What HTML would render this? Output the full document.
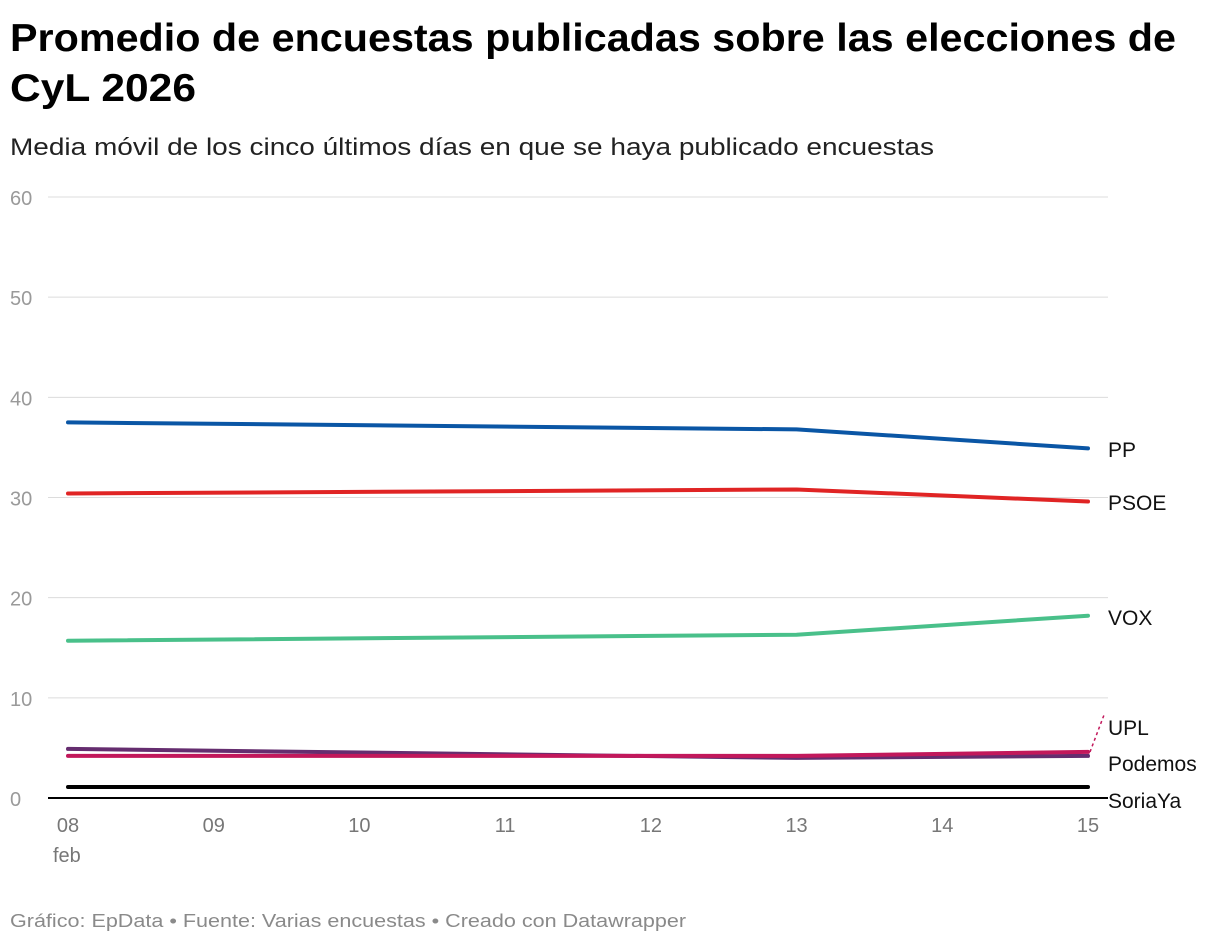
<!DOCTYPE html>
<html><head><meta charset="utf-8">
<style>
html,body{margin:0;padding:0;background:#fff;}
svg{display:block;font-family:"Liberation Sans",Arial,sans-serif;}
</style></head>
<body>
<svg id="chart" width="1220" height="944" viewBox="0 0 1220 944">
  <text x="10" y="51" font-size="39" font-weight="bold" fill="#000" textLength="1166" lengthAdjust="spacingAndGlyphs">Promedio de encuestas publicadas sobre las elecciones de</text>
  <text x="10" y="101" font-size="39" font-weight="bold" fill="#000" textLength="186" lengthAdjust="spacingAndGlyphs">CyL 2026</text>
  <text x="10" y="155" font-size="24" fill="#222" textLength="924" lengthAdjust="spacingAndGlyphs">Media móvil de los cinco últimos días en que se haya publicado encuestas</text>
  <g id="grid"></g>
  <g id="lines"></g>
  <g id="labels"></g>
  <text x="10" y="927" font-size="18" fill="#8a8a8a" textLength="676" lengthAdjust="spacingAndGlyphs">Gráfico: EpData • Fuente: Varias encuestas • Creado con Datawrapper</text>
</svg>
<script>
const dayLabels = ["08","09","10","11","12","13","14","15"];
const dayIndex = [0, 5, 7];
const yTicks = [0,10,20,30,40,50,60];
const seriesNames = ["PP","PSOE","VOX","UPL","Podemos","SoriaYa"];
const ppValues = [37.5, 36.8, 34.9];
const psoeValues = [30.4, 30.8, 29.6];
const voxValues = [15.7, 16.3, 18.2];
const uplValues = [4.2, 4.2, 4.6];
const podemosValues = [4.9, 4.0, 4.2];
const soriaValues = [1.1, 1.1, 1.1];

const NS = "http://www.w3.org/2000/svg";
const x = i => 68 + i * (1088 - 68) / 7;
const y = v => 798 - v * (798 - 197) / 60;
function mk(tag, attrs, parent, txt) {
  const e = document.createElementNS(NS, tag);
  for (const k in attrs) e.setAttribute(k, attrs[k]);
  if (txt !== undefined) e.textContent = txt;
  parent.appendChild(e);
  return e;
}
const grid = document.getElementById("grid");
yTicks.forEach(t => {
  if (t > 0) {
    const l = mk("line", {x1: 48, x2: 1108, y1: y(t), y2: y(t), stroke: "#dcdcdc", "stroke-width": 1}, grid);
    
    
  }
  const tx = mk("text", {x: 10, y: y(t) + 8, "font-size": 20, fill: "#9a9a9a"}, grid, String(t));
  
  
});
dayLabels.forEach((d, i) => {
  const tx = mk("text", {x: x(i), y: 832, "font-size": 20, fill: "#777", "text-anchor": "middle"}, grid, d);
  
  
});
const feb = mk("text", {x: 53, y: 862, "font-size": 20, fill: "#777"}, grid, "feb");



const lines = document.getElementById("lines");
const series = [
  [ppValues, "#0a56a5", "PP", 449],
  [psoeValues, "#e02424", "PSOE", 502],
  [voxValues, "#49c08a", "VOX", 617],
  [soriaValues, "#000000", "SoriaYa", 800],
  [podemosValues, "#652d6f", "Podemos", 763],
  [uplValues, "#c2185b", "UPL", 727]
];
series.forEach(([vals, col, name]) => {
  const pts = vals.map((v, k) => x(dayIndex[k]) + "," + y(v)).join(" ");
  const p = mk("polyline", {points: pts, fill: "none", stroke: col, "stroke-width": 4, "stroke-linejoin": "round", "stroke-linecap": "round"}, lines);
  
  
});
const base = mk("line", {x1: 48, x2: 1108, y1: 798, y2: 798, stroke: "#000", "stroke-width": 2}, lines);



const labels = document.getElementById("labels");
series.forEach(([vals, col, name, ly]) => {
  const last = vals[vals.length - 1];
  if (Math.abs(y(last) - ly + 6) > 12) {
    const c = mk("line", {x1: 1090, y1: y(last), x2: 1104, y2: ly - 12, stroke: col, "stroke-width": 1.5, "stroke-dasharray": "3,3"}, labels);
    
    
  }
  const t = mk("text", {x: 1108, y: ly + 8, "font-size": 21, fill: "#111"}, labels, name);
  
  
});
</script>
</body></html>
